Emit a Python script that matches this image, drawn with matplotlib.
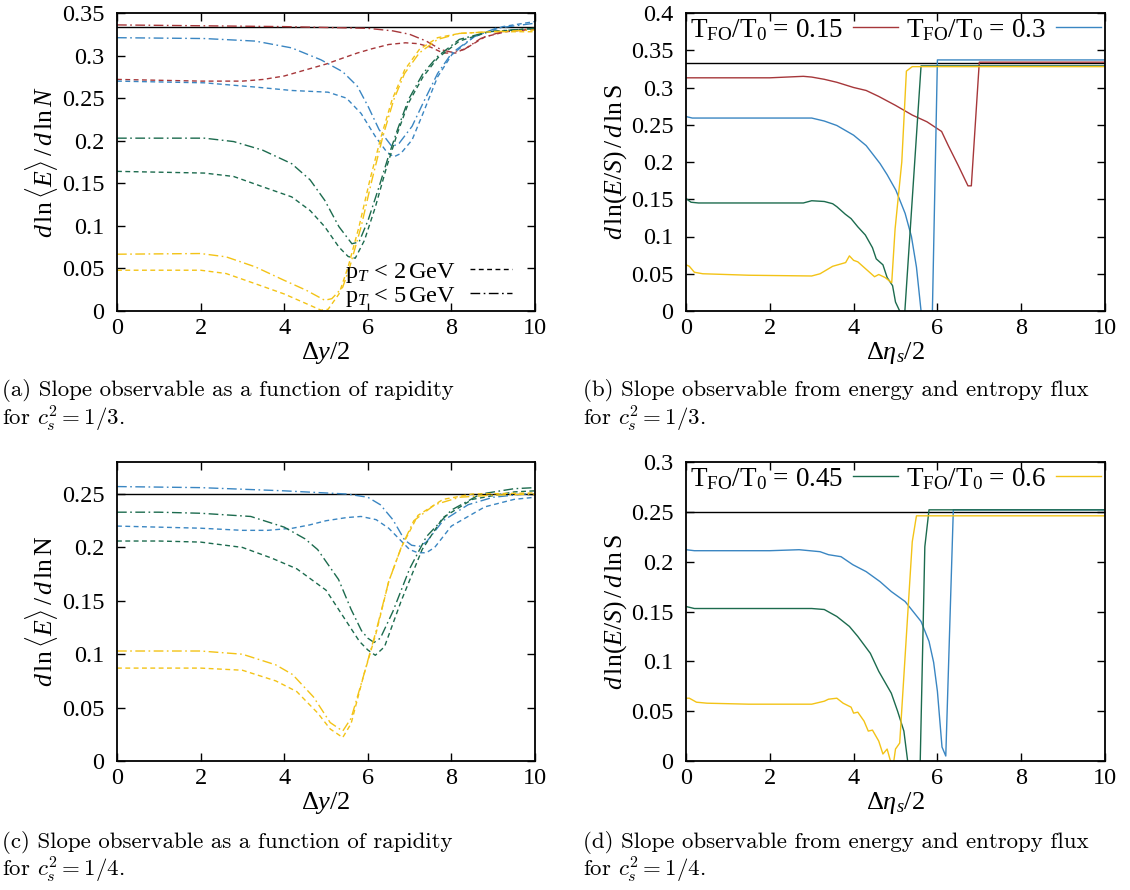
import matplotlib
matplotlib.use("Agg")
import matplotlib.pyplot as plt
from matplotlib.ticker import FuncFormatter

plt.rcParams['font.family'] = ['Liberation Serif', 'DejaVu Serif']
plt.rcParams['mathtext.fontset'] = 'custom'
plt.rcParams['mathtext.rm'] = 'Liberation Serif'
plt.rcParams['mathtext.it'] = 'Liberation Serif:italic'
plt.rcParams['mathtext.bf'] = 'Liberation Serif:bold'

RED = '#a6373a'
BLUE = '#3a86c2'
GREEN = '#1c6b4e'
YELLOW = '#f3c316'

# ---- panel (a): slope vs rapidity, cs^2 = 1/3 ----
a_red2_x = [0, 1, 2, 3, 3.5, 4, 4.5, 5, 5.4, 5.75, 6.1, 6.5, 6.9, 7.2, 7.5, 7.8, 8.1, 8.4, 8.8, 9.3, 10]
a_red2_y = [.272, .271, .270, .270, .272, .276, .283, .290, .297, .303, .308, .313, .315, .314, .310, .303, .303, .310, .322, .328, .331]
a_red5_x = [0, 2, 4, 5, 6, 6.6, 7.0, 7.4, 7.75, 8.0, 8.3, 8.7, 9.2, 10]
a_red5_y = [.336, .335, .334, .333, .332, .329, .325, .317, .307, .304, .307, .320, .328, .332]
a_blue5_x = [0, 2.09, 3.31, 4.18, 4.88, 5.4, 5.75, 6.01, 6.27, 6.58, 6.75, 7.06, 7.32, 7.67, 8.01, 8.54, 9.06, 10]
a_blue5_y = [.321, .320, .317, .309, .295, .281, .264, .240, .213, .193, .197, .217, .244, .279, .303, .322, .332, .338]
a_blue2_x = [0, 2.09, 3.31, 4.18, 5.05, 5.49, 5.84, 6.18, 6.45, 6.62, 6.79, 7.06, 7.32, 7.67, 8.01, 8.54, 9.23, 10]
a_blue2_y = [.270, .268, .263, .259, .257, .250, .232, .205, .187, .181, .185, .201, .232, .275, .301, .322, .334, .340]
a_green5_x = [0, 2.09, 2.79, 3.48, 4.18, 4.62, 4.97, 5.31, 5.62, 5.79, 6.01, 6.27, 6.49, 6.71, 6.97, 7.32, 7.67, 8.19, 8.89, 10]
a_green5_y = [.203, .203, .199, .189, .173, .154, .130, .099, .079, .081, .107, .146, .181, .213, .248, .279, .299, .319, .328, .332]
a_green2_x = [0, 2.09, 2.79, 3.48, 4.18, 4.62, 4.97, 5.31, 5.53, 5.7, 5.92, 6.18, 6.45, 6.71, 6.97, 7.32, 7.67, 8.19, 8.89, 10]
a_green2_y = [.164, .162, .158, .146, .134, .118, .099, .075, .064, .062, .083, .122, .169, .209, .244, .275, .297, .317, .328, .332]
a_yel5_x = [0, 2.0, 2.61, 3.31, 4.0, 4.53, 4.97, 5.14, 5.4, 5.57, 5.84, 6.1, 6.36, 6.62, 6.88, 7.23, 7.67, 8.19, 8.97, 10]
a_yel5_y = [.0667, .0675, .0636, .0518, .036, .0243, .0126, .0145, .028, .052, .099, .154, .205, .248, .279, .303, .319, .326, .328, .330]
a_yel2_x = [0, 2.0, 2.61, 3.31, 4.0, 4.53, 4.88, 5.05, 5.31, 5.53, 5.79, 6.05, 6.32, 6.58, 6.88, 7.23, 7.67, 8.19, 8.97, 10]
a_yel2_y = [.0479, .0479, .044, .032, .020, .0086, .001, .002, .020, .052, .099, .154, .205, .248, .283, .307, .321, .326, .328, .328]

# ---- panel (b): energy / entropy flux, cs^2 = 1/3 ----
b_red_x = [0, 1, 2, 2.8, 3.0, 3.3, 3.6, 4.0, 4.3, 4.6, 5.0, 5.4, 5.75, 6.1, 6.26, 6.5, 6.73, 6.81, 7.0, 10]
b_red_y = [.313, .313, .313, .315, .314, .311, .307, .300, .296, .288, .276, .263, .254, .241, .222, .195, .168, .168, .334, .334]
b_blue_x = [0, 0.15, 1, 2, 3.0, 3.3, 3.6, 4.0, 4.3, 4.63, 4.8, 5.01, 5.23, 5.38, 5.5, 5.61, 5.7, 5.8, 5.87, 6.0, 10]
b_blue_y = [.261, .259, .259, .259, .259, .255, .249, .236, .222, .198, .183, .162, .131, .100, .059, 0.0, -.03, -.03, -.03, .337, .337]
b_green_x = [0, 0.12, 0.3, 1, 2, 2.8, 3.0, 3.3, 3.5, 3.6, 3.8, 3.94, 4.1, 4.28, 4.45, 4.54, 4.7, 4.8, 4.93, 5.0, 5.1, 5.2, 5.61, 10]
b_green_y = [.151, .146, .145, .145, .145, .145, .148, .147, .144, .140, .130, .124, .113, .102, .085, .070, .062, .045, .034, .012, 0.0, -.02, .329, .329]
b_yel_x = [0, 0.08, 0.2, 0.4, 1.5, 3.0, 3.2, 3.5, 3.81, 3.9, 4.0, 4.1, 4.3, 4.5, 4.6, 4.75, 4.91, 4.99, 5.15, 5.26, 5.4, 10]
b_yel_y = [.062, .060, .052, .050, .048, .047, .050, .060, .065, .074, .068, .066, .056, .046, .049, .045, .038, .110, .200, .322, .328, .328]

# ---- panel (c): slope vs rapidity, cs^2 = 1/4 ----
c_blue5_x = [0, 2, 4, 5, 5.5, 6.0, 6.3, 6.6, 6.88, 7.05, 7.23, 7.4, 7.8, 8.4, 9, 10]
c_blue5_y = [.257, .256, .253, .251, .250, .247, .240, .226, .207, .202, .201, .205, .225, .240, .247, .251]
c_blue2_x = [0, 1, 2, 3, 3.6, 4.2, 4.6, 5.0, 5.5, 5.84, 6.2, 6.5, 6.7, 7.0, 7.2, 7.4, 7.6, 8.0, 8.8, 9.5, 10]
c_blue2_y = [.220, .219, .218, .216, .216, .218, .221, .225, .228, .229, .226, .218, .210, .198, .195, .195, .200, .220, .238, .245, .247]
c_green5_x = [0, 1, 2, 3.2, 4.0, 4.5, 4.8, 5.3, 5.6, 5.85, 6.0, 6.15, 6.3, 6.6, 7.0, 7.4, 8.0, 8.7, 9.5, 10]
c_green5_y = [.233, .233, .232, .229, .219, .208, .198, .170, .142, .122, .115, .111, .115, .140, .180, .210, .235, .250, .255, .256]
c_green2_x = [0, 1, 2, 3, 3.7, 4.3, 5.0, 5.5, 5.8, 6.0, 6.18, 6.4, 6.8, 7.3, 7.8, 8.5, 9.5, 10]
c_green2_y = [.206, .206, .205, .200, .190, .180, .160, .130, .112, .104, .099, .107, .150, .198, .228, .245, .252, .253]
c_yel5_x = [0, 1, 2, 3, 3.8, 4.2, 4.7, 5.1, 5.4, 5.6, 5.9, 6.2, 6.5, 6.8, 7.1, 7.6, 8.2, 9, 10]
c_yel5_y = [.103, .103, .103, .100, .090, .081, .060, .036, .028, .040, .080, .122, .168, .200, .225, .240, .247, .249, .250]
c_yel2_x = [0, 1, 2, 3, 3.8, 4.3, 4.8, 5.1, 5.4, 5.6, 5.9, 6.2, 6.5, 6.8, 7.2, 7.8, 8.5, 10]
c_yel2_y = [.087, .087, .087, .085, .075, .065, .045, .030, .022, .035, .080, .120, .168, .200, .230, .245, .250, .251]

# ---- panel (d): energy / entropy flux, cs^2 = 1/4 ----
d_blue_x = [0, 0.2, 1, 2, 2.7, 3.2, 3.4, 3.7, 3.98, 4.3, 4.63, 4.9, 5.23, 5.61, 5.8, 5.91, 6.0, 6.11, 6.2, 6.38, 10]
d_blue_y = [.212, .211, .211, .211, .212, .210, .207, .205, .197, .190, .180, .170, .160, .140, .120, .099, .070, .014, .005, .252, .252]
d_green_x = [0, 0.2, 1, 2, 3.0, 3.3, 3.6, 3.9, 4.1, 4.4, 4.6, 4.9, 5.05, 5.2, 5.29, 5.35, 5.58, 5.7, 5.8, 10]
d_green_y = [.155, .153, .153, .153, .153, .152, .145, .135, .125, .108, .090, .068, .050, .030, 0.0, -.02, -.02, .215, .252, .252]
d_yel_x = [0, 0.08, 0.25, 0.5, 1.5, 3.0, 3.3, 3.4, 3.6, 3.75, 3.94, 4.0, 4.1, 4.25, 4.35, 4.45, 4.6, 4.7, 4.8, 4.88, 4.95, 5.0, 5.1, 5.4, 5.5, 10]
d_yel_y = [.063, .063, .059, .058, .057, .057, .060, .062, .063, .058, .054, .048, .049, .040, .030, .031, .020, .007, .012, 0.0, -.003, .012, .018, .220, .246, .246]

captions = [
    ["(a) Slope observable as a function of rapidity", "for $c_s^2 = 1/3$."],
    ["(b) Slope observable from energy and entropy flux", "for $c_s^2 = 1/3$."],
    ["(c) Slope observable as a function of rapidity", "for $c_s^2 = 1/4$."],
    ["(d) Slope observable from energy and entropy flux", "for $c_s^2 = 1/4$."],
]

DASH = (0, (3.5, 2.5))
DASHDOT = (0, (7, 2.5, 1.2, 2.5))
FS = 17.5
LFS = 19
YFS = 18.5

W, H = 1130, 890
fig = plt.figure(figsize=(W / 100, H / 100), dpi=100)


def px_axes(x0, y0, x1, y1):
    return fig.add_axes([x0 / W, 1 - y1 / H, (x1 - x0) / W, (y1 - y0) / H])


def style(ax, ymax, ystep):
    ax.set_xlim(0, 10)
    ax.set_ylim(0, ymax)
    ax.set_xticks([0, 2, 4, 6, 8, 10])
    n = int(round(ymax / ystep))
    ticks = [round(i * ystep, 3) for i in range(n + 1)]
    ax.set_yticks([t for t in ticks if t <= ymax + 1e-9])
    ax.yaxis.set_major_formatter(FuncFormatter(lambda v, p: f'{v:g}'))
    ax.tick_params(direction='in', top=True, right=True, length=6, width=1,
                   labelsize=FS, pad=5)
    ax.tick_params(axis='y', pad=9)
    for s in ax.spines.values():
        s.set_linewidth(1.3)


ax_a = px_axes(117, 13, 535, 311)
ax_b = px_axes(686, 13, 1105, 311)
ax_c = px_axes(117, 462, 535, 761)
ax_d = px_axes(686, 462, 1105, 761)

lw = 1.0
leg_kw = dict(markerfirst=False, frameon=False)
top_leg = dict(loc='upper left', ncol=2, handlelength=1.65, handletextpad=0.37, columnspacing=0.3,
               borderaxespad=0.1, borderpad=0.05, fontsize=19.5, **leg_kw)

# (a)
ax = ax_a
ax.axhline(1 / 3, color='black', lw=1.0)
for xs, ys, c, ls in [(a_red2_x, a_red2_y, RED, DASH), (a_red5_x, a_red5_y, RED, DASHDOT),
                      (a_blue2_x, a_blue2_y, BLUE, DASH), (a_blue5_x, a_blue5_y, BLUE, DASHDOT),
                      (a_green2_x, a_green2_y, GREEN, DASH), (a_green5_x, a_green5_y, GREEN, DASHDOT),
                      (a_yel2_x, a_yel2_y, YELLOW, DASH), (a_yel5_x, a_yel5_y, YELLOW, DASHDOT)]:
    ax.plot(xs, ys, color=c, ls=ls, lw=lw)
style(ax, 0.35, 0.05)
ax.set_xlabel(r'$\Delta y/2$', fontsize=LFS, labelpad=1)
ax.set_ylabel(r'$d\,\ln\langle E\rangle\,/\,d\,\ln N$', fontsize=YFS, labelpad=1)
h1, = ax.plot([], [], color='black', ls=DASH, lw=1.0)
h2, = ax.plot([], [], color='black', ls=DASHDOT, lw=1.0)
ax.legend([h1, h2], [r'p$_T$ < 2$\,$GeV', r'p$_T$ < 5$\,$GeV'],
          loc='lower right', handlelength=1.7, handletextpad=0.6, labelspacing=0.0,
          borderaxespad=0.0, borderpad=0.1, bbox_to_anchor=(0.95, 0.0), fontsize=FS, **leg_kw)

# (b)
ax = ax_b
ax.axhline(1 / 3, color='black', lw=1.0)
hr, = ax.plot(b_red_x, b_red_y, color=RED, lw=lw)
hb, = ax.plot(b_blue_x, b_blue_y, color=BLUE, lw=lw)
ax.plot(b_green_x, b_green_y, color=GREEN, lw=lw)
ax.plot(b_yel_x, b_yel_y, color=YELLOW, lw=lw)
style(ax, 0.4, 0.05)
ax.set_xlabel(r'$\Delta\eta_s/2$', fontsize=LFS, labelpad=1)
ax.set_ylabel(r'$d\,\ln(E/S)\,/\,d\,\ln\mathrm{S}$', fontsize=YFS, labelpad=1)
ax.legend([hr, hb], [r'T$_{\mathrm{FO}}$/T$_0$ = 0.15', r'T$_{\mathrm{FO}}$/T$_0$ = 0.3'], **top_leg)

# (c)
ax = ax_c
ax.axhline(0.25, color='black', lw=1.0)
for xs, ys, c, ls in [(c_blue2_x, c_blue2_y, BLUE, DASH), (c_blue5_x, c_blue5_y, BLUE, DASHDOT),
                      (c_green2_x, c_green2_y, GREEN, DASH), (c_green5_x, c_green5_y, GREEN, DASHDOT),
                      (c_yel2_x, c_yel2_y, YELLOW, DASH), (c_yel5_x, c_yel5_y, YELLOW, DASHDOT)]:
    ax.plot(xs, ys, color=c, ls=ls, lw=lw)
style(ax, 0.28, 0.05)
ax.set_xlabel(r'$\Delta y/2$', fontsize=LFS, labelpad=1)
ax.set_ylabel(r'$d\,\ln\langle E\rangle\,/\,d\,\ln\mathrm{N}$', fontsize=YFS, labelpad=1)

# (d)
ax = ax_d
ax.axhline(0.25, color='black', lw=1.0)
ax.plot(d_blue_x, d_blue_y, color=BLUE, lw=lw)
hg, = ax.plot(d_green_x, d_green_y, color=GREEN, lw=lw)
hy, = ax.plot(d_yel_x, d_yel_y, color=YELLOW, lw=lw)
style(ax, 0.3, 0.05)
ax.set_xlabel(r'$\Delta\eta_s/2$', fontsize=LFS, labelpad=1)
ax.set_ylabel(r'$d\,\ln(E/S)\,/\,d\,\ln\mathrm{S}$', fontsize=YFS, labelpad=1)
ax.legend([hg, hy], [r'T$_{\mathrm{FO}}$/T$_0$ = 0.45', r'T$_{\mathrm{FO}}$/T$_0$ = 0.6'], **top_leg)

# captions, one text per line
for lines, (cx, cy) in zip(captions, [(2, 388), (583, 388), (2, 839), (583, 839)]):
    for k, line in enumerate(lines):
        fig.text(cx / W, 1 - (cy + 27 * k) / H, line, ha='left', va='center_baseline',
                 fontsize=16.5, family='cmr10', math_fontfamily='cm')

fig.savefig('out.png', dpi=100)
